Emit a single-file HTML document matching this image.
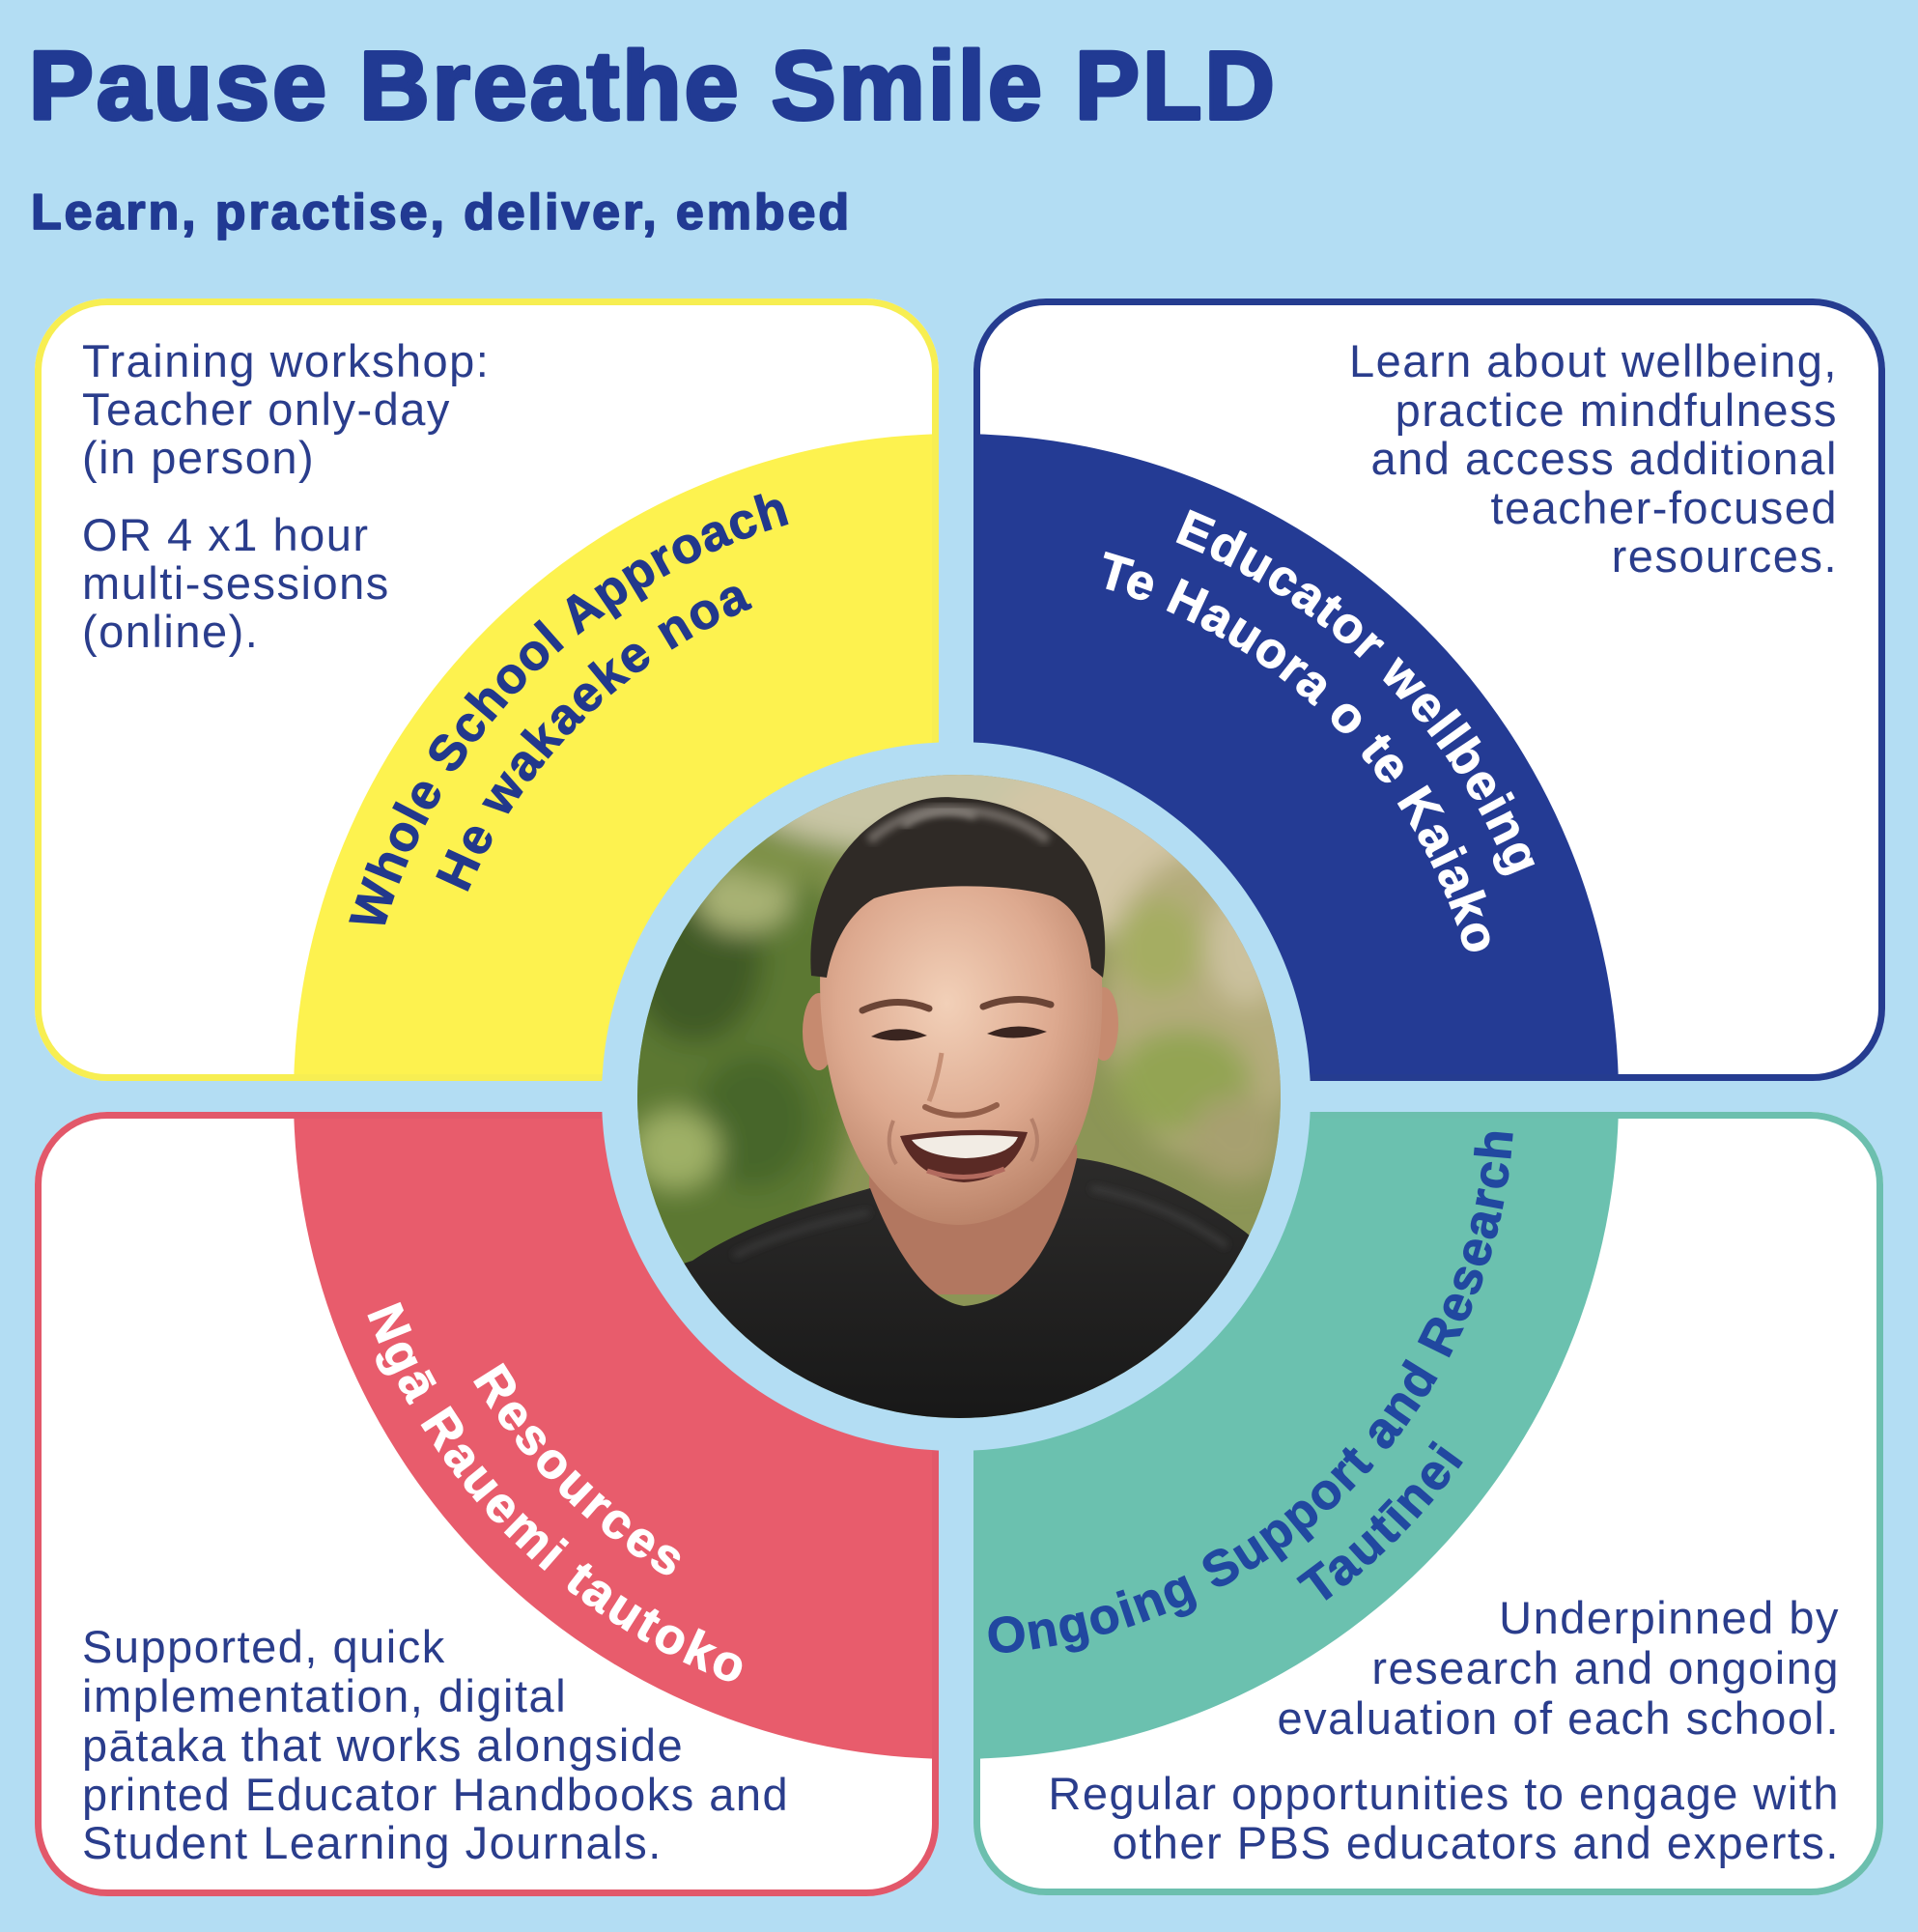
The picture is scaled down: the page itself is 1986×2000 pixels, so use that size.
<!DOCTYPE html>
<html>
<head>
<meta charset="utf-8">
<style>
  html,body{margin:0;padding:0;background:#b3ddf3;}
  svg{display:block;}
  .body{font-family:"Liberation Sans",Arial,sans-serif;font-size:47px;fill:#2a3d8c;letter-spacing:1.5px;}
  .band{font-family:"Liberation Sans",Arial,sans-serif;font-size:52px;font-weight:bold;}
</style>
</head>
<body>
<svg width="1986" height="2000" viewBox="0 0 1986 2000" xmlns="http://www.w3.org/2000/svg">
  <defs>
    <clipPath id="cTL"><rect x="36" y="309" width="936" height="810" rx="75"/></clipPath>
    <clipPath id="cTR"><rect x="1008" y="309" width="944" height="810" rx="75"/></clipPath>
    <clipPath id="cBL"><rect x="36" y="1151" width="936" height="812" rx="75"/></clipPath>
    <clipPath id="cBR"><rect x="1008" y="1151" width="942" height="811" rx="75"/></clipPath>
    <clipPath id="cPh"><circle cx="993" cy="1135" r="333"/></clipPath>

    <path id="y1" d="M516.6,1532.2 A618,618 0 0 1 1387.2,661.6"/>
    <path id="y2" d="M570.2,1487.3 A548,548 0 0 1 1342.3,715.2"/>
    <path id="b1" d="M592.8,661.6 A618,618 0 0 1 1463.4,1532.2"/>
    <path id="b2" d="M637.7,715.2 A548,548 0 0 1 1409.8,1487.3"/>
    <path id="r1" d="M545.7,762.2 A580,580 0 0 0 1362.8,1579.3"/>
    <path id="r2" d="M492.1,717.2 A650,650 0 0 0 1407.8,1632.9"/>
    <path id="t1" d="M618.5,1577.7 A578,578 0 0 0 1432.7,763.5"/>
    <path id="t2" d="M574.1,1630.6 A647,647 0 0 0 1485.6,719.1"/>

    <filter id="blur" x="-20%" y="-20%" width="140%" height="140%"><feGaussianBlur stdDeviation="14"/></filter>
    <filter id="blur2" x="-20%" y="-20%" width="140%" height="140%"><feGaussianBlur stdDeviation="4"/></filter>
    <radialGradient id="skin" cx="0.45" cy="0.35" r="0.7">
      <stop offset="0" stop-color="#f2d0b8"/>
      <stop offset="0.55" stop-color="#dda98f"/>
      <stop offset="1" stop-color="#b57d63"/>
    </radialGradient>
    <linearGradient id="shirt" x1="0" y1="0" x2="0" y2="1">
      <stop offset="0" stop-color="#2c2b2a"/>
      <stop offset="1" stop-color="#161616"/>
    </linearGradient>
  </defs>

  <!-- background -->
  <rect x="0" y="0" width="1986" height="2000" fill="#b3ddf3"/>

  <!-- title -->
  <text x="30" y="123" font-family="'Liberation Sans',Arial,sans-serif" font-size="100" font-weight="bold" fill="#213a93" stroke="#213a93" stroke-width="4" stroke-linejoin="round" letter-spacing="3.3">Pause Breathe Smile PLD</text>
  <text x="32" y="237" font-family="'Liberation Sans',Arial,sans-serif" font-size="52" font-weight="bold" fill="#213a93" stroke="#213a93" stroke-width="1.8" stroke-linejoin="round" letter-spacing="2.9">Learn, practise, deliver, embed</text>

  <!-- TL box (yellow) -->
  <rect x="36" y="309" width="936" height="810" rx="75" fill="#ffffff"/>
  <circle cx="990" cy="1135" r="686" fill="#fdf24f" clip-path="url(#cTL)"/>
  <rect x="39.5" y="312.5" width="929" height="803" rx="71.5" fill="none" stroke="#f7ee52" stroke-width="7"/>

  <!-- TR box (blue) -->
  <rect x="1008" y="309" width="944" height="810" rx="75" fill="#ffffff"/>
  <circle cx="990" cy="1135" r="686" fill="#243b94" clip-path="url(#cTR)"/>
  <rect x="1011.5" y="312.5" width="937" height="803" rx="71.5" fill="none" stroke="#253c90" stroke-width="7"/>

  <!-- BL box (red) -->
  <rect x="36" y="1151" width="936" height="812" rx="75" fill="#ffffff"/>
  <circle cx="990" cy="1135" r="686" fill="#e85c6c" clip-path="url(#cBL)"/>
  <rect x="39.5" y="1154.5" width="929" height="805" rx="71.5" fill="none" stroke="#e2586a" stroke-width="7"/>

  <!-- BR box (teal) -->
  <rect x="1008" y="1151" width="942" height="811" rx="75" fill="#ffffff"/>
  <circle cx="990" cy="1135" r="686" fill="#6bc1af" clip-path="url(#cBR)"/>
  <rect x="1011.5" y="1154.5" width="935" height="804" rx="71.5" fill="none" stroke="#6cbfae" stroke-width="7"/>

  <!-- light blue ring -->
  <circle cx="990" cy="1135" r="367" fill="#b3ddf3"/>

  <!-- photo -->
  <g clip-path="url(#cPh)">
    <rect x="650" y="790" width="700" height="700" fill="#8c9556"/>
    <g filter="url(#blur)">
      <ellipse cx="745" cy="1080" rx="140" ry="260" fill="#5b7833"/>
      <ellipse cx="720" cy="990" rx="70" ry="90" fill="#3f5a25"/>
      <ellipse cx="780" cy="1160" rx="60" ry="70" fill="#476629"/>
      <ellipse cx="700" cy="1190" rx="45" ry="40" fill="#9fb066"/>
      <ellipse cx="770" cy="930" rx="50" ry="35" fill="#a9b275"/>
      <ellipse cx="820" cy="860" rx="90" ry="55" fill="#7d9046"/>
      <ellipse cx="990" cy="815" rx="230" ry="70" fill="#c9c6a6"/>
      <ellipse cx="1140" cy="880" rx="120" ry="90" fill="#d3c6a6"/>
      <ellipse cx="1250" cy="1040" rx="110" ry="160" fill="#b4ac7c"/>
      <ellipse cx="1225" cy="1120" rx="70" ry="55" fill="#93a453"/>
      <ellipse cx="1200" cy="980" rx="45" ry="50" fill="#a5ad62"/>
      <ellipse cx="1290" cy="980" rx="40" ry="60" fill="#cbc19d"/>
      <ellipse cx="1280" cy="1180" rx="50" ry="45" fill="#a7a06f"/>
    </g>
    <!-- neck -->
    <path d="M900,1200 L1115,1185 L1120,1340 L900,1340 Z" fill="#b27760"/>
    <!-- shirt -->
    <path d="M640,1330 L717,1305 C765,1272 830,1250 901,1230 C918,1275 952,1345 998,1352 C1052,1348 1092,1298 1115,1199 C1165,1205 1225,1228 1289,1275 C1320,1300 1345,1330 1360,1370 L1360,1500 L640,1500 Z" fill="url(#shirt)"/>
    <path d="M760,1300 C800,1280 850,1265 900,1255" stroke="#3a3a3a" stroke-width="6" fill="none" filter="url(#blur2)"/>
    <path d="M1130,1230 C1180,1240 1230,1260 1270,1290" stroke="#3c3c3c" stroke-width="6" fill="none" filter="url(#blur2)"/>
    <!-- ears -->
    <ellipse cx="848" cy="1068" rx="17" ry="40" fill="#c68a6f"/>
    <ellipse cx="1143" cy="1060" rx="15" ry="38" fill="#c68a6f"/>
    <!-- face -->
    <path d="M850,990 C845,1060 860,1150 895,1210 C925,1255 960,1268 995,1268 C1035,1266 1075,1245 1105,1200 C1135,1150 1145,1070 1140,990 C1135,940 1100,915 1000,915 C900,915 855,940 850,990 Z" fill="url(#skin)"/>
    <!-- hair -->
    <path d="M840,1010 C835,945 860,885 905,852 C932,832 962,822 992,826 C1045,828 1092,852 1122,892 C1142,922 1148,972 1142,1012 L1130,1002 C1126,962 1112,938 1090,928 C1050,915 960,912 905,930 C880,945 862,975 856,1012 Z" fill="#2f2a26"/>
    <path d="M900,870 C930,845 960,835 990,838 C1030,840 1060,850 1085,870" stroke="#6f6963" stroke-width="10" fill="none" filter="url(#blur2)"/>
    <path d="M935,855 C955,840 985,835 1010,845" stroke="#8a847e" stroke-width="7" fill="none" filter="url(#blur2)"/>
    <!-- eyebrows -->
    <path d="M893,1046 Q928,1030 962,1044" stroke="#6b4536" stroke-width="7" fill="none" stroke-linecap="round"/>
    <path d="M1018,1042 Q1052,1028 1088,1040" stroke="#6b4536" stroke-width="7" fill="none" stroke-linecap="round"/>
    <!-- eyes -->
    <path d="M902,1073 Q930,1058 960,1072 Q930,1082 902,1073 Z" fill="#3a2520"/>
    <path d="M1022,1070 Q1052,1056 1084,1068 Q1052,1080 1022,1070 Z" fill="#3a2520"/>
    <!-- nose -->
    <path d="M958,1146 Q995,1164 1032,1144" stroke="#935f4a" stroke-width="6" fill="none" stroke-linecap="round"/>
    <path d="M975,1090 Q970,1120 962,1140" stroke="#c58f75" stroke-width="5" fill="none"/>
    <!-- cheek creases -->
    <path d="M925,1160 Q915,1185 928,1205" stroke="#b5806a" stroke-width="4" fill="none"/>
    <path d="M1068,1158 Q1080,1182 1068,1202" stroke="#b5806a" stroke-width="4" fill="none"/>
    <!-- mouth -->
    <path d="M932,1176 Q1000,1166 1064,1172 Q1048,1222 998,1224 Q948,1220 932,1176 Z" fill="#5a2a25"/>
    <path d="M944,1180 Q1000,1172 1054,1177 Q1046,1197 1000,1199 Q956,1197 944,1180 Z" fill="#f2ece4"/>
    <path d="M960,1212 Q1000,1226 1040,1210" stroke="#b26a5e" stroke-width="5" fill="none"/>
  </g>

  <!-- band labels -->
  <text class="band" fill="#22388c" stroke="#22388c" stroke-width="1" letter-spacing="1.3" text-anchor="middle"><textPath href="#y1" startOffset="50%">Whole School Approach</textPath></text>
  <text class="band" fill="#22388c" stroke="#22388c" stroke-width="1" letter-spacing="2.1" text-anchor="middle"><textPath href="#y2" startOffset="50%">He wakaeke noa</textPath></text>

  <text class="band" fill="#ffffff" stroke="#ffffff" stroke-width="1" letter-spacing="1.8" text-anchor="middle"><textPath href="#b1" startOffset="50%">Educator wellbeing</textPath></text>
  <text class="band" fill="#ffffff" stroke="#ffffff" stroke-width="1" letter-spacing="1.3" text-anchor="middle"><textPath href="#b2" startOffset="50%">Te Hauora o te Kaiako</textPath></text>

  <text class="band" fill="#ffffff" stroke="#ffffff" stroke-width="1" letter-spacing="3.6" text-anchor="middle"><textPath href="#r1" startOffset="50%">Resources</textPath></text>
  <text class="band" fill="#ffffff" stroke="#ffffff" stroke-width="1" letter-spacing="3.4" text-anchor="middle"><textPath href="#r2" startOffset="50%">Ngā Rauemi tautoko</textPath></text>

  <text class="band" fill="#2148a0" stroke="#2148a0" stroke-width="1" letter-spacing="2.0" text-anchor="middle"><textPath href="#t1" startOffset="50%">Ongoing Support and Research</textPath></text>
  <text class="band" fill="#2148a0" stroke="#2148a0" stroke-width="1" letter-spacing="3.0" text-anchor="middle"><textPath href="#t2" startOffset="50%">Tautīnei</textPath></text>

  <!-- TL text -->
  <text class="body" x="85" y="390">Training workshop:</text>
  <text class="body" x="85" y="440">Teacher only-day</text>
  <text class="body" x="85" y="490">(in person)</text>
  <text class="body" x="85" y="570">OR 4 x1 hour</text>
  <text class="body" x="85" y="620">multi-sessions</text>
  <text class="body" x="85" y="670">(online).</text>

  <!-- TR text -->
  <text class="body" x="1903" y="390" text-anchor="end">Learn about wellbeing,</text>
  <text class="body" x="1903" y="441" text-anchor="end">practice mindfulness</text>
  <text class="body" x="1903" y="491" text-anchor="end">and access additional</text>
  <text class="body" x="1903" y="542" text-anchor="end">teacher-focused</text>
  <text class="body" x="1903" y="592" text-anchor="end">resources.</text>

  <!-- BL text -->
  <text class="body" x="85" y="1721">Supported, quick</text>
  <text class="body" x="85" y="1772">implementation, digital</text>
  <text class="body" x="85" y="1823">pātaka that works alongside</text>
  <text class="body" x="85" y="1874">printed Educator Handbooks and</text>
  <text class="body" x="85" y="1924">Student Learning Journals.</text>

  <!-- BR text -->
  <text class="body" x="1905" y="1691" text-anchor="end">Underpinned by</text>
  <text class="body" x="1905" y="1743" text-anchor="end">research and ongoing</text>
  <text class="body" x="1905" y="1795" text-anchor="end">evaluation of each school.</text>
  <text class="body" x="1905" y="1873" text-anchor="end">Regular opportunities to engage with</text>
  <text class="body" x="1905" y="1924" text-anchor="end">other PBS educators and experts.</text>
</svg>
</body>
</html>
